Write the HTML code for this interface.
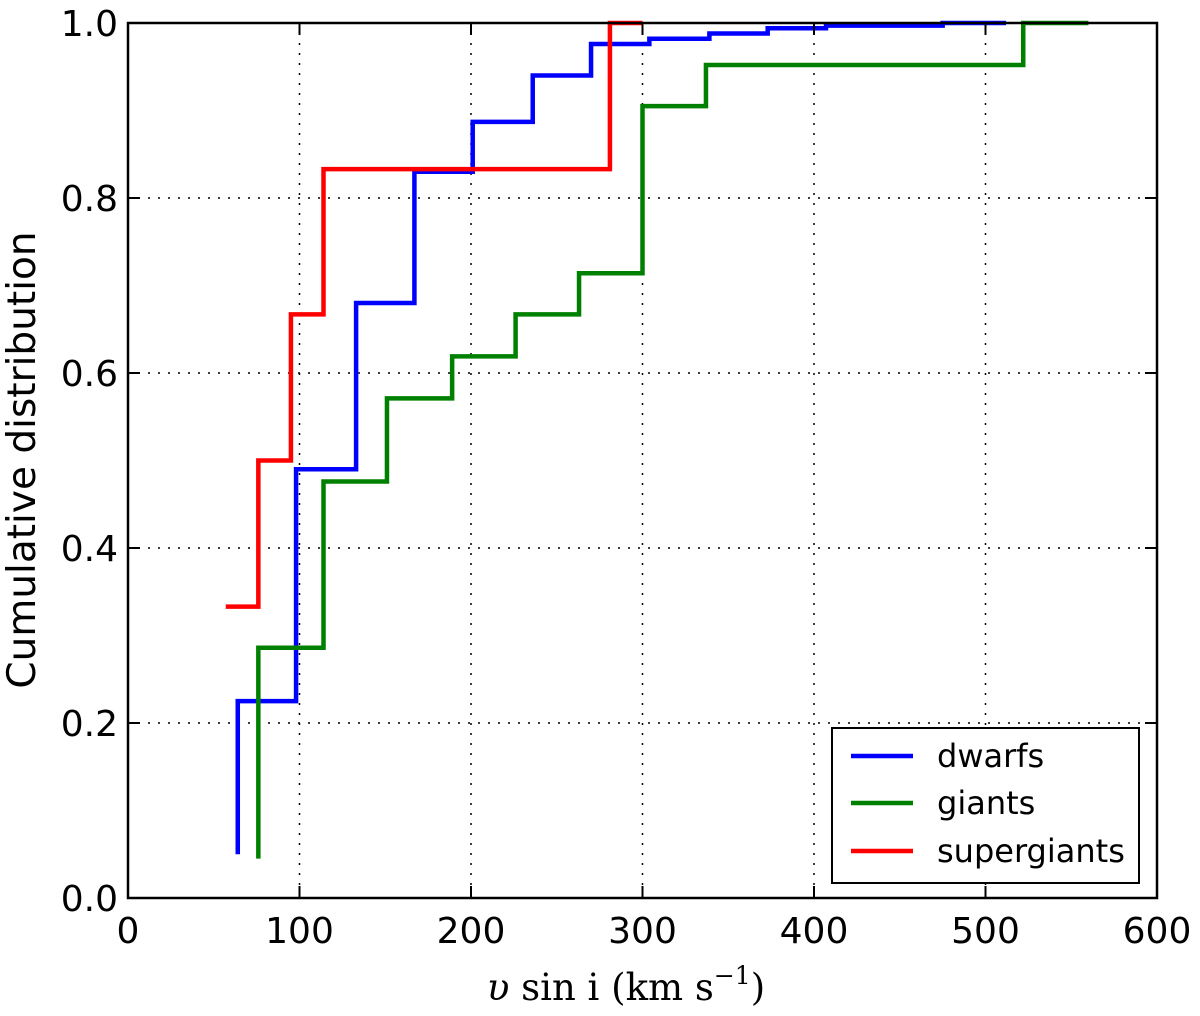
<!DOCTYPE html>
<html><head><meta charset="utf-8"><style>
body{margin:0;background:#fff;}
svg text{font-family:"DejaVu Sans","Liberation Sans",sans-serif;}
svg text.serif{font-family:"DejaVu Serif","Liberation Serif",serif;}
</style></head><body>
<svg id="c" width="1200" height="1011" xmlns="http://www.w3.org/2000/svg">
<g id="grid"></g>
<g id="series"></g>
<rect x="128" y="23" width="1029" height="875" fill="none" stroke="#000" stroke-width="2.5"/>
<g id="ticks"></g>
<text x="35" y="460" font-size="39" text-anchor="middle" transform="rotate(-90 35 460)">Cumulative distribution</text>
<text class="serif" x="626" y="1000" font-size="37" text-anchor="middle"><tspan font-style="italic">υ</tspan> sin i (km s<tspan dy="-16" font-size="25">−1</tspan><tspan dy="16">)</tspan></text>
<g>
<rect x="832" y="728" width="307" height="155" fill="#fff" stroke="#000" stroke-width="2"/>
<line x1="851" y1="756" x2="913" y2="756" stroke="#0000ff" stroke-width="4.5"/>
<text x="937" y="767" font-size="32">dwarfs</text>
<line x1="851" y1="803" x2="913" y2="803" stroke="#008000" stroke-width="4.5"/>
<text x="937" y="814" font-size="32">giants</text>
<line x1="851" y1="851" x2="913" y2="851" stroke="#ff0000" stroke-width="4.5"/>
<text x="937" y="862" font-size="32">supergiants</text>
</g>
</svg>
<script>
const xTicks=[0,100,200,300,400,500,600];
const yTicks=[0.0,0.2,0.4,0.6,0.8,1.0];
const dwarfX=[64,64,98,133,167,201,236,270,304,339,373,407,475,512];
const dwarfY=[0.05,0.225,0.49,0.68,0.83,0.887,0.94,0.976,0.982,0.988,0.994,0.997,1.0,1.0];
const giantX=[76,76,114,151,189,226,263,300,337,522,560];
const giantY=[0.045,0.286,0.476,0.571,0.619,0.667,0.714,0.905,0.952,1.0,1.0];
const superX=[57,76,95,114,281,300];
const superY=[0.333,0.5,0.667,0.833,1.0,1.0];
const X0=128,X1=1157,Y0=898,Y1=23;
const sx=v=>X0+(v-0)/(600-0)*(X1-X0);
const sy=v=>Y0+(v-0)/(1-0)*(Y1-Y0);
const NS="http://www.w3.org/2000/svg";
const grid=document.getElementById('grid'),ticks=document.getElementById('ticks'),ser=document.getElementById('series');
function mk(t,a,p){const e=document.createElementNS(NS,t);for(const k in a)e.setAttribute(k,a[k]);p.appendChild(e);return e;}
xTicks.forEach(v=>{
  const x=sx(v);
  const g=mk('line',{x1:x,x2:x,y1:Y1,y2:Y0,stroke:'#000','stroke-width':1.5,'stroke-dasharray':'2,8'},grid);
  
  
  mk('line',{x1:x,x2:x,y1:Y0,y2:Y0-12,stroke:'#000','stroke-width':2},ticks);
  mk('line',{x1:x,x2:x,y1:Y1,y2:Y1+12,stroke:'#000','stroke-width':2},ticks);
  const t=mk('text',{x:x,y:Y0+45,'font-size':36,'text-anchor':'middle'},ticks);
  t.textContent=v;
  
  
});
yTicks.forEach(v=>{
  const y=sy(v);
  const g=mk('line',{x1:X0,x2:X1,y1:y,y2:y,stroke:'#000','stroke-width':1.5,'stroke-dasharray':'2,8'},grid);
  
  
  mk('line',{x1:X0,x2:X0+12,y1:y,y2:y,stroke:'#000','stroke-width':2},ticks);
  mk('line',{x1:X1,x2:X1-12,y1:y,y2:y,stroke:'#000','stroke-width':2},ticks);
  const t=mk('text',{x:X0-10,y:y+13,'font-size':36,'text-anchor':'end'},ticks);
  t.textContent=v.toFixed(1);
  
  
});
function step(xs,ys,color,name){
  let d='M'+sx(xs[0])+','+sy(ys[0]);
  for(let i=1;i<xs.length;i++){d+=' H'+sx(xs[i])+' V'+sy(ys[i]);}
  const p=mk('path',{d:d,fill:'none',stroke:color,'stroke-width':4.5},ser);
  
  
}
step(dwarfX,dwarfY,'#0000ff','dwarfs-line');
step(giantX,giantY,'#008000','giants-line');
step(superX,superY,'#ff0000','supergiants-line');
</script>
</body></html>
